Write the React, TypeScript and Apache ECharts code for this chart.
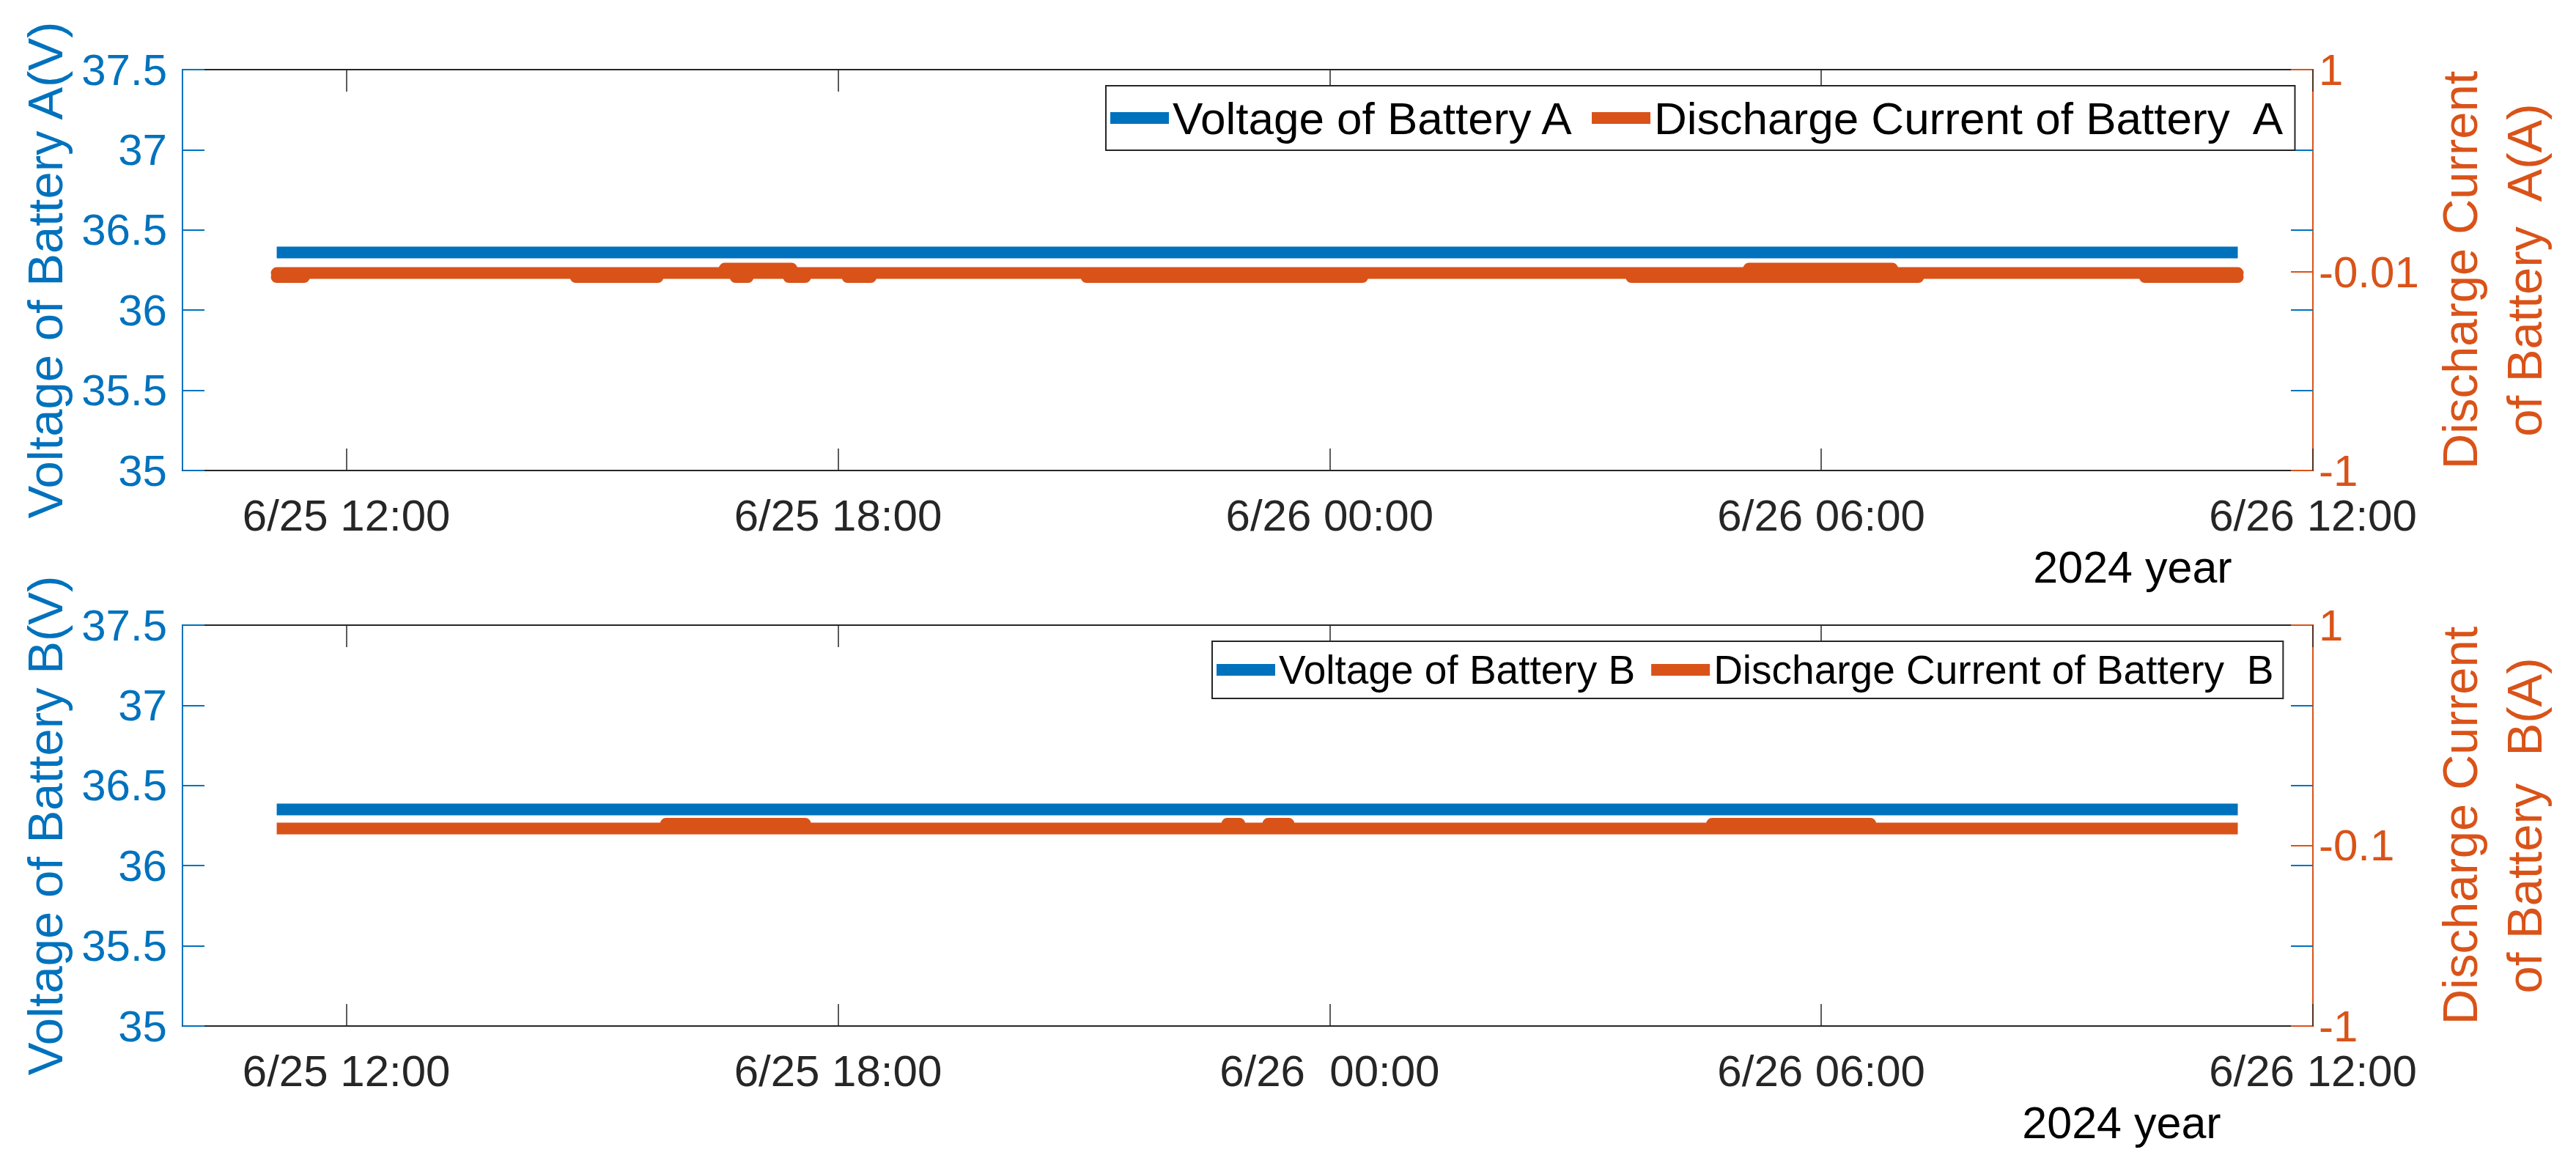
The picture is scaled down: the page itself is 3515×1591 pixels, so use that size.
import React, {useEffect, useRef} from 'react';
import * as echarts from 'echarts';

const BLUE = '#0072BD';
const ORANGE = '#D95319';
const AXIS = '#262626';
const FONT = '"Liberation Sans", Arial, Helvetica, sans-serif';

// x positions are hours after 6/25 00:00
const xMin = 10;
const xMax = 36;
const xTickHours = [12, 18, 24, 30, 36];
const xTickLabelsA = ['6/25 12:00', '6/25 18:00', '6/26 00:00', '6/26 06:00', '6/26 12:00'];
const xTickLabelsB = ['6/25 12:00', '6/25 18:00', '6/26  00:00', '6/26 06:00', '6/26 12:00'];
const currentTicksA = [-1, -0.01, 1];
const currentTicksB = [-1, -0.1, 1];

// battery A
const voltageATimes = ['6/25 11:09', '6/26 11:05'];
const voltageAValues = [36.36, 36.36];
const currentATimes = ['6/25 11:09', '6/26 11:05'];
const currentAValues = [-0.015, -0.015];
const currentADips = [
    ['6/25 11:09', '6/25 11:29'],
    ['6/25 14:48', '6/25 15:48'],
    ['6/25 16:45', '6/25 16:54'],
    ['6/25 17:24', '6/25 17:36'],
    ['6/25 18:07', '6/25 18:24'],
    ['6/25 21:02', '6/26 00:24'],
    ['6/26 03:41', '6/26 07:11'],
    ['6/26 09:57', '6/26 11:05']
];
const currentADipValue = -0.035;
const currentABumps = [
    ['6/25 16:37', '6/25 17:26'],
    ['6/26 05:07', '6/26 06:52']
];
const currentABumpValue = 0.007;

// battery B
const voltageBTimes = ['6/25 11:09', '6/26 11:05'];
const voltageBValues = [36.35, 36.35];
const currentBTimes = ['6/25 11:09', '6/26 11:05'];
const currentBValues = [-0.015, -0.015];
const currentBBumps = [
    ['6/25 15:54', '6/25 17:36'],
    ['6/25 22:45', '6/25 22:54'],
    ['6/25 23:15', '6/25 23:30'],
    ['6/26 04:40', '6/26 06:36']
];
const currentBBumpValue = 0.009;

const toHours = (s: string) => {
    const [md, hm] = s.split(' ');
    const [, d] = md.split('/').map(Number);
    const [h, mi] = hm.split(':').map(Number);
    return (d - 25) * 24 + h + mi / 60;
};

const pairs = (times: string[], values: number[]) => times.map((t, i) => [toHours(t), values[i]]);

const segments = (segs: string[][], value: number) =>
    segs.flatMap(([a, b]) => [
        [toHours(a), value],
        [toHours(b), value],
        [toHours(b), '-']
    ]);

type Panel = {
    gridIndex: number;
    top: number;
    letter: string;
    xLabels: string[];
    currentTicks: number[];
    legendLeft: number;
    legendFont: number;
    legendPad: number[];
    legendGap: number;
    yearX: number;
};

const panels: Panel[] = [
    {
        gridIndex: 0,
        top: 95,
        letter: 'A',
        xLabels: xTickLabelsA,
        currentTicks: currentTicksA,
        legendLeft: 1509,
        legendFont: 62,
        legendPad: [13, 13, 13, 6],
        legendGap: 24,
        yearX: 2910
    },
    {
        gridIndex: 1,
        top: 853,
        letter: 'B',
        xLabels: xTickLabelsB,
        currentTicks: currentTicksB,
        legendLeft: 1654,
        legendFont: 55,
        legendPad: [11.5, 13, 11.5, 6],
        legendGap: 22,
        yearX: 2895
    }
];

const GRID_LEFT = 249;
const GRID_WIDTH = 2907;
const GRID_HEIGHT = 547;

const buildOption = () => {
    const grid: any[] = [];
    const xAxis: any[] = [];
    const yAxis: any[] = [];
    const legend: any[] = [];
    const graphic: any[] = [];

    panels.forEach(p => {
        grid.push({
            left: GRID_LEFT,
            top: p.top,
            width: GRID_WIDTH,
            height: GRID_HEIGHT,
            show: true,
            borderColor: AXIS,
            borderWidth: 2,
            backgroundColor: 'transparent',
            containLabel: false,
            outerBoundsMode: 'none'
        });

        xAxis.push(
            {
                type: 'value',
                gridIndex: p.gridIndex,
                position: 'bottom',
                min: xMin,
                max: xMax,
                axisLine: {show: true, onZero: false, lineStyle: {color: AXIS, width: 2}},
                axisTick: {
                    show: true,
                    inside: true,
                    length: 30,
                    customValues: xTickHours,
                    lineStyle: {color: AXIS, width: 1.5}
                },
                axisLabel: {
                    customValues: xTickHours,
                    formatter: (v: number) => p.xLabels[xTickHours.indexOf(v)] ?? '',
                    margin: 31,
                    fontSize: 60,
                    color: AXIS,
                    fontFamily: FONT
                },
                splitLine: {show: false}
            },
            {
                type: 'value',
                gridIndex: p.gridIndex,
                position: 'top',
                min: xMin,
                max: xMax,
                axisLine: {show: false, onZero: false},
                axisTick: {
                    show: true,
                    inside: true,
                    length: 30,
                    customValues: xTickHours,
                    lineStyle: {color: AXIS, width: 1.5}
                },
                axisLabel: {show: false},
                splitLine: {show: false}
            }
        );

        yAxis.push(
            {
                type: 'value',
                gridIndex: p.gridIndex,
                position: 'left',
                min: 35,
                max: 37.5,
                interval: 0.5,
                axisLine: {show: true, onZero: false, lineStyle: {color: BLUE, width: 2}},
                axisTick: {show: true, inside: true, length: 30, lineStyle: {color: BLUE, width: 2}},
                axisLabel: {margin: 21, fontSize: 60, color: BLUE, fontFamily: FONT},
                splitLine: {show: false},
                name: `Voltage of Battery ${p.letter}(V)`,
                nameLocation: 'middle',
                nameRotate: 90,
                nameGap: 154,
                nameTextStyle: {fontSize: 67, lineHeight: 67, color: BLUE, fontFamily: FONT}
            },
            {
                type: 'value',
                gridIndex: p.gridIndex,
                position: 'right',
                min: 35,
                max: 37.5,
                interval: 0.5,
                axisLine: {show: false, onZero: false},
                axisTick: {show: true, inside: true, length: 30, lineStyle: {color: BLUE, width: 2}},
                axisLabel: {show: false},
                splitLine: {show: false}
            },
            {
                type: 'value',
                gridIndex: p.gridIndex,
                position: 'right',
                min: -1,
                max: 1,
                axisLine: {show: true, onZero: false, lineStyle: {color: ORANGE, width: 2}},
                axisTick: {
                    show: true,
                    inside: true,
                    length: 30,
                    customValues: p.currentTicks,
                    lineStyle: {color: ORANGE, width: 2}
                },
                axisLabel: {
                    customValues: p.currentTicks,
                    margin: 8,
                    fontSize: 60,
                    color: ORANGE,
                    fontFamily: FONT
                },
                splitLine: {show: false},
                name: `Discharge Current\nof Battery  ${p.letter}(A)`,
                nameLocation: 'middle',
                nameRotate: 90,
                nameGap: 156,
                nameTextStyle: {fontSize: 67, lineHeight: 88, color: ORANGE, fontFamily: FONT}
            }
        );

        legend.push({
            left: p.legendLeft,
            top: p.top + 22,
            orient: 'horizontal',
            data: [`Voltage of Battery ${p.letter}`, `Discharge Current of Battery  ${p.letter}`],
            icon: 'rect',
            itemWidth: 80,
            itemHeight: 16,
            itemGap: p.legendGap,
            padding: p.legendPad,
            borderColor: AXIS,
            borderWidth: 2,
            borderRadius: 0,
            backgroundColor: '#ffffff',
            selectedMode: false,
            textStyle: {
                fontSize: p.legendFont,
                lineHeight: p.legendFont,
                color: '#000000',
                fontFamily: FONT
            }
        });

        graphic.push({
            type: 'text',
            x: p.yearX,
            y: p.top + GRID_HEIGHT + 132,
            style: {
                text: '2024 year',
                fill: '#000000',
                font: `61px ${FONT}`,
                textAlign: 'center',
                textVerticalAlign: 'middle'
            }
        });
    });

    const lineSeries = (name: string, xi: number, yi: number, data: any[], color: string, cap = 'butt') => ({
        name,
        type: 'line',
        xAxisIndex: xi,
        yAxisIndex: yi,
        data,
        symbol: 'none',
        silent: true,
        lineStyle: {color, width: 16, cap},
        itemStyle: {color},
        emphasis: {disabled: true}
    });

    const series = [
        lineSeries('Voltage of Battery A', 0, 0, pairs(voltageATimes, voltageAValues), BLUE),
        lineSeries('Discharge Current of Battery  A', 0, 2, pairs(currentATimes, currentAValues), ORANGE, 'round'),
        lineSeries('current A dips', 0, 2, segments(currentADips, currentADipValue), ORANGE, 'round'),
        lineSeries('current A bumps', 0, 2, segments(currentABumps, currentABumpValue), ORANGE, 'round'),
        lineSeries('Voltage of Battery B', 2, 3, pairs(voltageBTimes, voltageBValues), BLUE),
        lineSeries('Discharge Current of Battery  B', 2, 5, pairs(currentBTimes, currentBValues), ORANGE),
        lineSeries('current B bumps', 2, 5, segments(currentBBumps, currentBBumpValue), ORANGE, 'round')
    ];

    return {
        animation: false,
        backgroundColor: '#ffffff',
        textStyle: {fontFamily: FONT},
        grid,
        xAxis,
        yAxis,
        legend,
        graphic,
        series
    };
};

const BatteryChart = () => {
    const ref = useRef<HTMLDivElement>(null);

    useEffect(() => {
        const chart = echarts.init(ref.current as HTMLDivElement, null, {renderer: 'svg'});
        chart.setOption(buildOption() as any);
        return () => chart.dispose();
    }, []);

    return <div ref={ref} style={{position: 'absolute', left: 0, top: 0, width: 3515, height: 1591}} />;
};

export default function App() {
    return <BatteryChart />;
}
